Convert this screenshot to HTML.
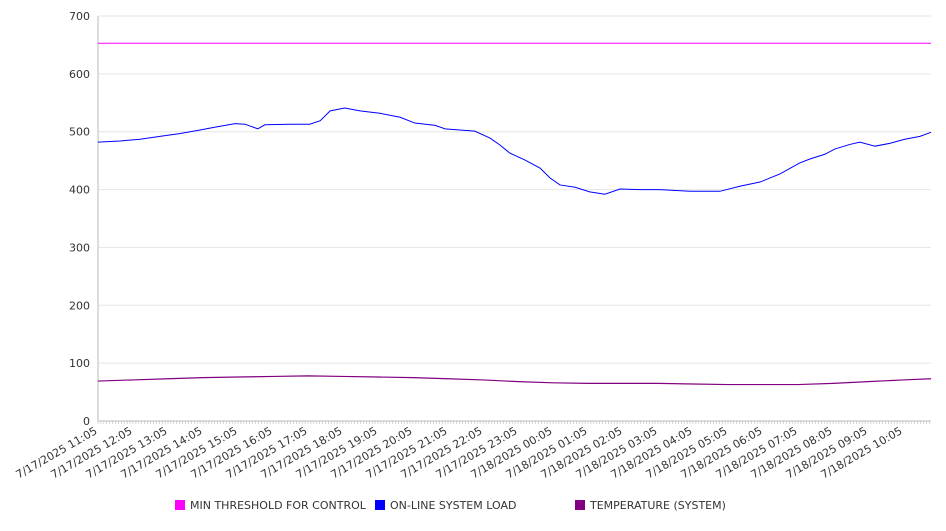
<!DOCTYPE html>
<html><head><meta charset="utf-8"><style>
body{margin:0;background:#fff;font-family:"Liberation Sans","DejaVu Sans",sans-serif}
svg text{font-family:"DejaVu Sans","Liberation Sans",sans-serif;fill:#333}
</style></head><body>
<svg id="chart" width="946" height="526" viewBox="0 0 946 526" xmlns="http://www.w3.org/2000/svg">
<g id="grid"></g>
<g id="yaxis"></g>
<g id="xaxis"></g>
<g id="series"></g>
<g>
<g><rect x="175" y="500" width="10" height="10" fill="#ff00ff"/><text x="190" y="509" font-size="11">MIN THRESHOLD FOR CONTROL</text></g>
<g><rect x="375" y="500" width="10" height="10" fill="#0000ff"/><text x="390" y="509" font-size="11">ON-LINE SYSTEM LOAD</text></g>
<g><rect x="575" y="500" width="10" height="10" fill="#800080"/><text x="590" y="509" font-size="11">TEMPERATURE (SYSTEM)</text></g>
</g>
</svg>
<script>
const yTicks=[0,100,200,300,400,500,600,700];
const xTickLabels=["7/17/2025 11:05","7/17/2025 12:05","7/17/2025 13:05","7/17/2025 14:05","7/17/2025 15:05","7/17/2025 16:05","7/17/2025 17:05","7/17/2025 18:05","7/17/2025 19:05","7/17/2025 20:05","7/17/2025 21:05","7/17/2025 22:05","7/17/2025 23:05","7/18/2025 00:05","7/18/2025 01:05","7/18/2025 02:05","7/18/2025 03:05","7/18/2025 04:05","7/18/2025 05:05","7/18/2025 06:05","7/18/2025 07:05","7/18/2025 08:05","7/18/2025 09:05","7/18/2025 10:05"];
const thresholdValue=653;
const loadMinutes=[0,38,72,106,141,175,201,235,252,274,286,329,363,381,398,423,449,483,518,543,578,595,646,672,689,706,732,758,775,792,818,843,869,895,929,963,1015,1066,1101,1135,1169,1203,1221,1246,1263,1289,1306,1332,1358,1383,1409,1428];
const loadValues=[482,484,487,492,497,503,508,514,513,505,512,513,513,519,536,541,536,532,525,515,511,505,501,489,477,463,451,437,420,408,404,396,392,401,400,400,397,397,406,413,427,446,453,461,470,478,482,475,480,487,492,499];
const tempMinutes=[0,60,120,180,240,300,360,420,480,540,600,660,720,780,840,900,960,1020,1080,1140,1200,1260,1320,1380,1428];
const tempValues=[69,71,73,75,76,77,78,77,76,75,73,71,68,66,65,65,65,64,63,63,63,65,68,71,73];
const X0=98,X1=931,Y0=421,Y1=16,MAXM=1428,MAXV=700;
const xs=m=>X0+(m/MAXM)*(X1-X0);
const ys=v=>Y0-(v/MAXV)*(Y0-Y1);
const NS="http://www.w3.org/2000/svg";
function mk(t,a,p){const e=document.createElementNS(NS,t);for(const k in a)e.setAttribute(k,a[k]);p.appendChild(e);return e;}
const grid=document.getElementById('grid'),ya=document.getElementById('yaxis'),xa=document.getElementById('xaxis'),se=document.getElementById('series');
yTicks.forEach(v=>{
 const l=mk('line',{x1:X0,x2:X1,y1:ys(v),y2:ys(v),stroke:v===0?'#bbb':'#e6e6e6','stroke-width':1},grid);
 
 
 const t=mk('text',{x:90,y:ys(v)+4,'text-anchor':'end','font-size':11},ya);t.textContent=v;
 
 
});
mk('line',{x1:X0,x2:X0,y1:Y1,y2:Y0,stroke:'#bbb'},ya);
for(let m=0;m<=MAXM;m+=5){mk('line',{x1:xs(m),x2:xs(m),y1:Y0,y2:Y0+3,stroke:'#bbb','stroke-width':0.6},xa);}
xTickLabels.forEach((s,i)=>{
 const x=xs(i*60);
 const t=mk('text',{x:x,y:Y0+12,'text-anchor':'end','font-size':11,transform:`rotate(-30 ${x} ${Y0+12})`},xa);t.textContent=s;
 
 
});
const th=mk('line',{x1:X0,x2:X1,y1:ys(thresholdValue),y2:ys(thresholdValue),stroke:'#ff00ff','stroke-width':1},se);


const lp=mk('polyline',{points:loadMinutes.map((m,i)=>xs(m)+','+ys(loadValues[i])).join(' '),fill:'none',stroke:'#0000ff','stroke-width':1},se);


const tp=mk('polyline',{points:tempMinutes.map((m,i)=>xs(m)+','+ys(tempValues[i])).join(' '),fill:'none',stroke:'#800080','stroke-width':1.2},se);


</script>
</body></html>
